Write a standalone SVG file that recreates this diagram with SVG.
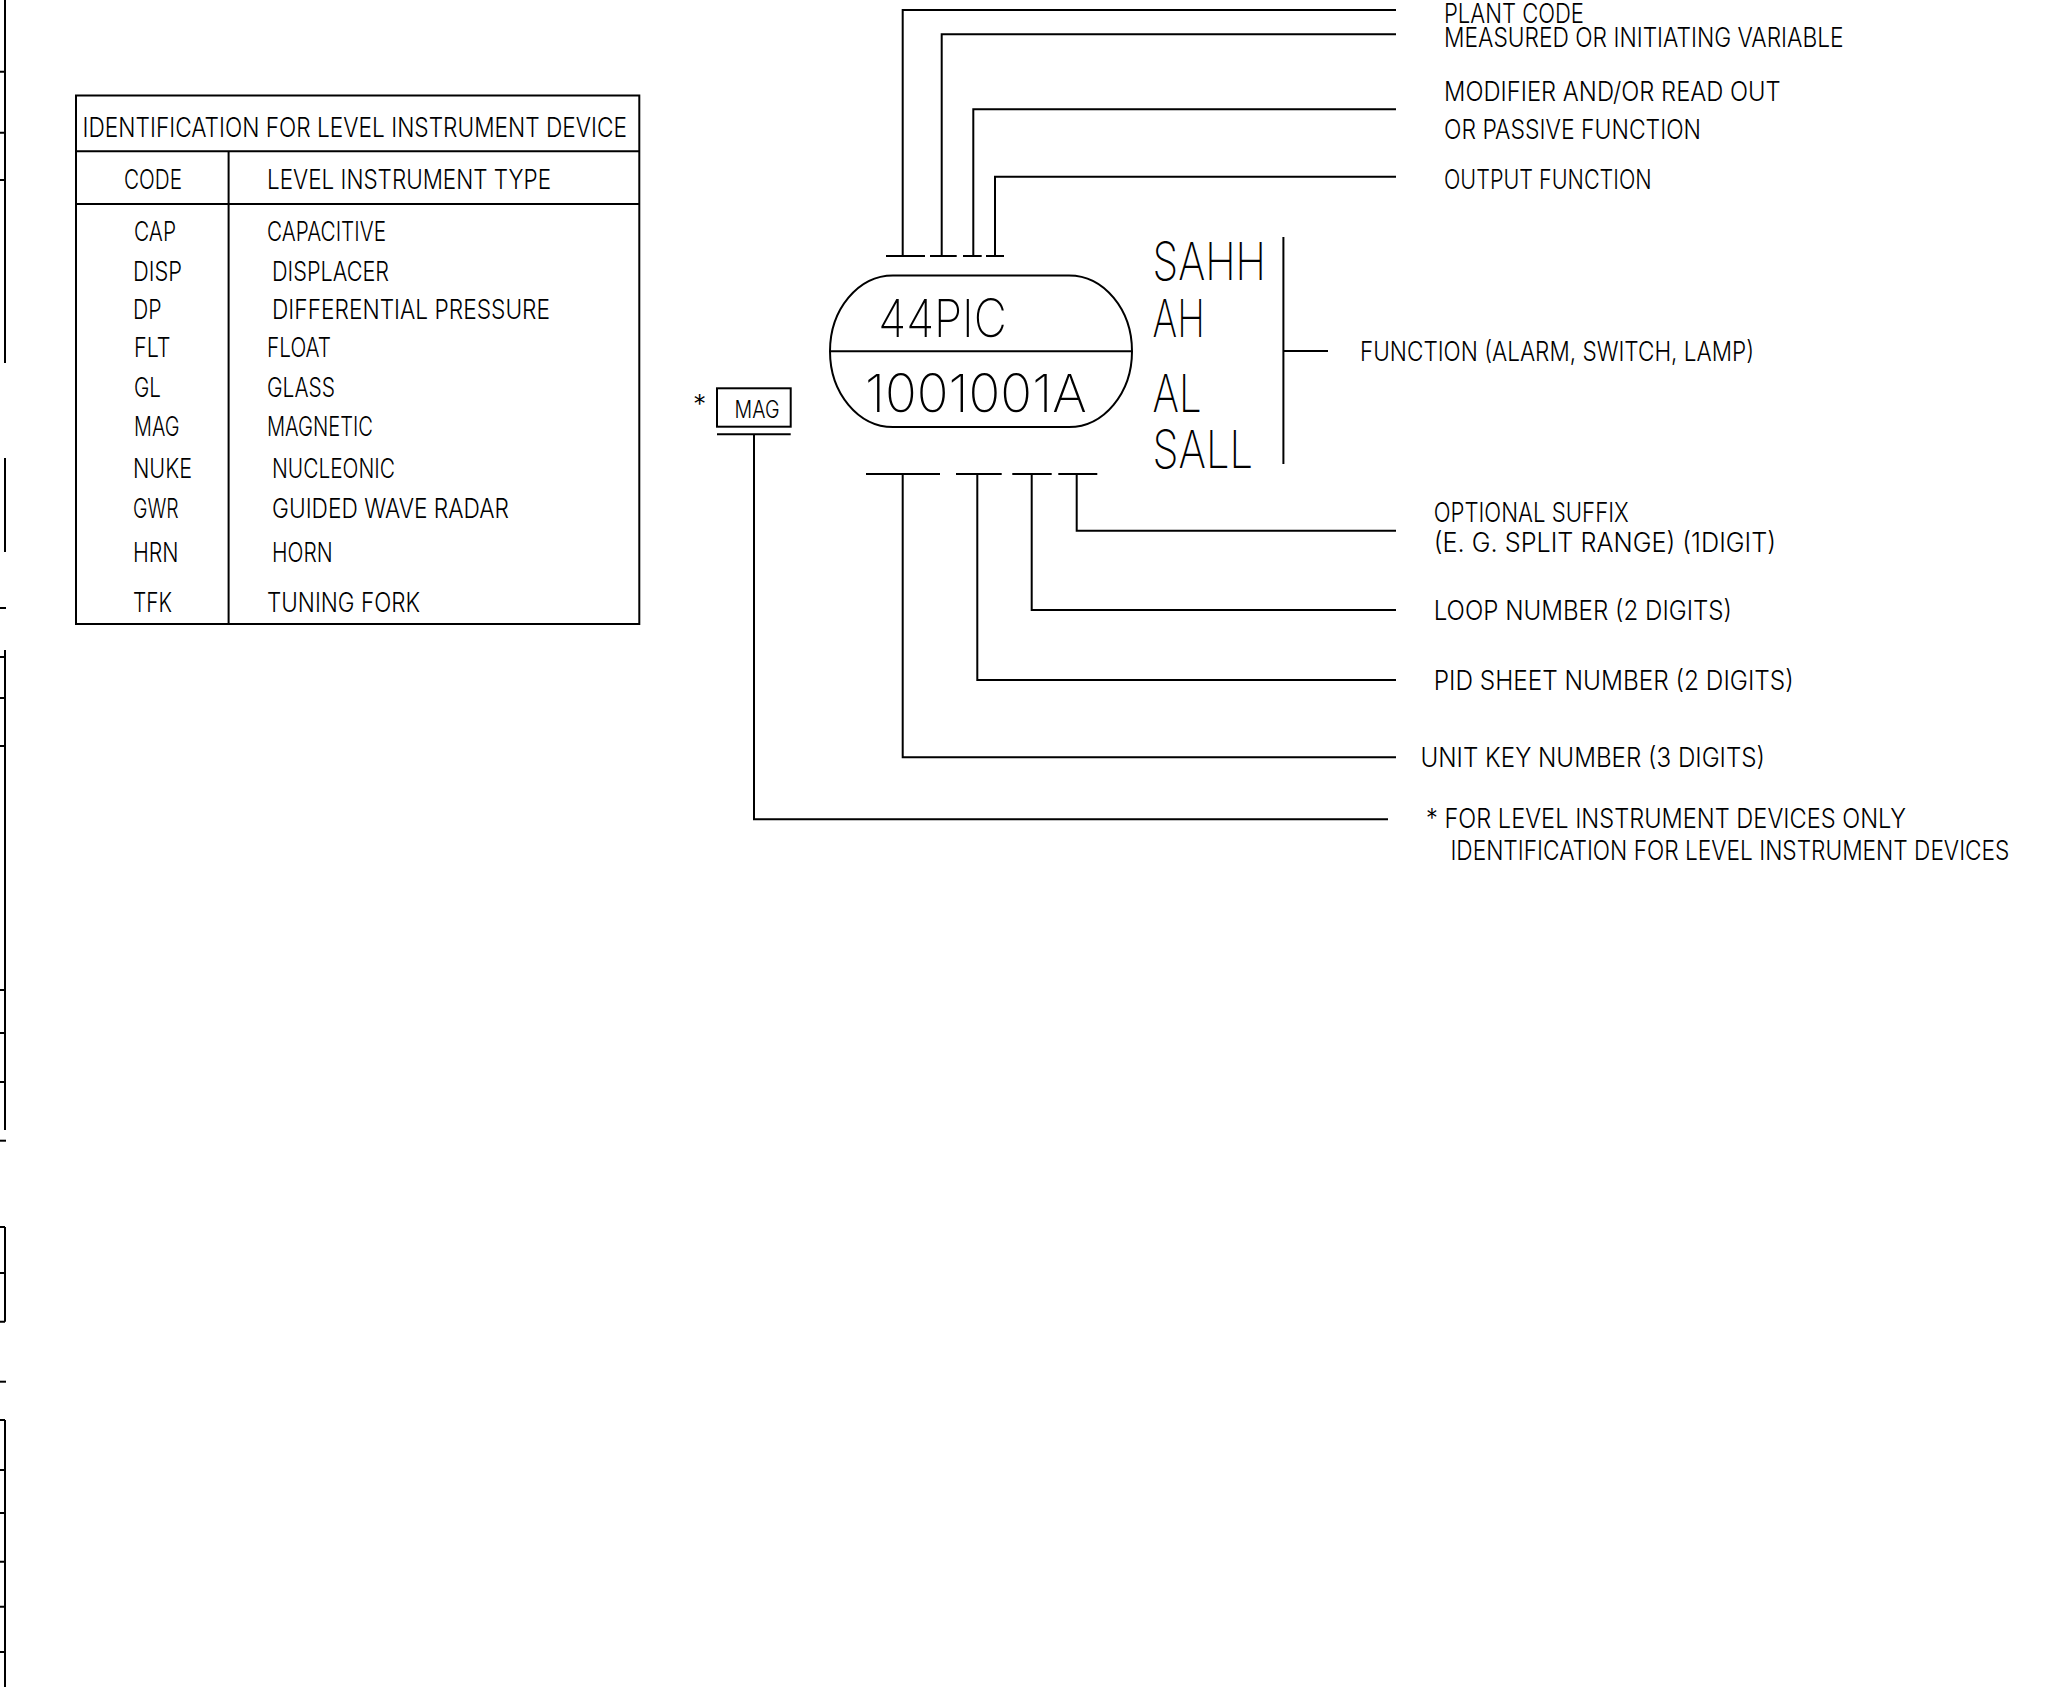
<svg xmlns="http://www.w3.org/2000/svg" width="2070" height="1687" viewBox="0 0 2070 1687">
<style>
.ln { stroke: #000; stroke-width: 2; fill: none; }
.tx { font-family: Inter, "Liberation Sans", Arial, sans-serif; font-weight: 300; font-size: 26.5px; fill: #000; }
.big { font-family: Inter, "Liberation Sans", Arial, sans-serif; font-weight: 200; font-size: 52.5px; fill: #000; }
.sm { font-family: Inter, "Liberation Sans", Arial, sans-serif; font-weight: 300; font-size: 24.5px; fill: #000; }
</style>
<rect x="0" y="0" width="2070" height="1687" fill="#fff"/>

<g id="frame-edge" class="ln">
  <path d="M5,0 V363 M0,71.7 H5 M0,132.7 H5 M0,180 H5"/>
  <path d="M5,458 V552"/>
  <path d="M0,608 H6"/>
  <path d="M5,650 V1130 M0,657 H5 M0,698 H5 M0,746 H5 M0,990 H5 M0,1033 H5 M0,1082 H5"/>
  <path d="M0,1140.7 H6"/>
  <path d="M5,1227 V1321.7 M0,1227 H5 M0,1273 H5 M0,1321.7 H5"/>
  <path d="M0,1381.7 H6"/>
  <path d="M5,1420 V1687 M0,1420 H5 M0,1470 H5 M0,1513 H5 M0,1561.7 H5 M0,1606.7 H5 M0,1652 H5"/>
</g>

<g id="level-table">
  <rect class="ln" x="76" y="95.5" width="563.3" height="528.5"/>
  <path class="ln" d="M76,151.3 H639.3 M76,204 H639.3 M228.6,151.3 V624"/>
  <text class="tx" x="82.6" y="136.8" textLength="544.4" lengthAdjust="spacingAndGlyphs">IDENTIFICATION FOR LEVEL INSTRUMENT DEVICE</text>
  <text class="tx" x="124" y="188.6" textLength="58" lengthAdjust="spacingAndGlyphs">CODE</text>
  <text class="tx" x="267" y="188.6" textLength="284" lengthAdjust="spacingAndGlyphs">LEVEL INSTRUMENT TYPE</text>
  <text class="tx" x="134" y="240.5" textLength="42" lengthAdjust="spacingAndGlyphs">CAP</text>
  <text class="tx" x="267" y="240.5" textLength="119" lengthAdjust="spacingAndGlyphs">CAPACITIVE</text>
  <text class="tx" x="133" y="281" textLength="49" lengthAdjust="spacingAndGlyphs">DISP</text>
  <text class="tx" x="272" y="281" textLength="117" lengthAdjust="spacingAndGlyphs">DISPLACER</text>
  <text class="tx" x="133" y="319" textLength="28.6" lengthAdjust="spacingAndGlyphs">DP</text>
  <text class="tx" x="272" y="319" textLength="278" lengthAdjust="spacingAndGlyphs">DIFFERENTIAL PRESSURE</text>
  <text class="tx" x="134" y="357" textLength="36.5" lengthAdjust="spacingAndGlyphs">FLT</text>
  <text class="tx" x="267" y="357" textLength="64" lengthAdjust="spacingAndGlyphs">FLOAT</text>
  <text class="tx" x="134" y="397" textLength="27" lengthAdjust="spacingAndGlyphs">GL</text>
  <text class="tx" x="267" y="397" textLength="68" lengthAdjust="spacingAndGlyphs">GLASS</text>
  <text class="tx" x="134" y="436" textLength="45.5" lengthAdjust="spacingAndGlyphs">MAG</text>
  <text class="tx" x="267" y="436" textLength="106" lengthAdjust="spacingAndGlyphs">MAGNETIC</text>
  <text class="tx" x="133" y="478" textLength="59" lengthAdjust="spacingAndGlyphs">NUKE</text>
  <text class="tx" x="272" y="478" textLength="123" lengthAdjust="spacingAndGlyphs">NUCLEONIC</text>
  <text class="tx" x="133" y="518" textLength="45.6" lengthAdjust="spacingAndGlyphs">GWR</text>
  <text class="tx" x="272" y="518" textLength="237" lengthAdjust="spacingAndGlyphs">GUIDED WAVE RADAR</text>
  <text class="tx" x="133" y="562" textLength="45.6" lengthAdjust="spacingAndGlyphs">HRN</text>
  <text class="tx" x="272" y="562" textLength="60.6" lengthAdjust="spacingAndGlyphs">HORN</text>
  <text class="tx" x="133" y="611.5" textLength="39" lengthAdjust="spacingAndGlyphs">TFK</text>
  <text class="tx" x="267" y="611.5" textLength="153" lengthAdjust="spacingAndGlyphs">TUNING FORK</text>
</g>

<g id="instrument-bubble">
  <path class="ln" d="M893,275.5 H1069 A63,75.75 0 0 1 1069,427 H893 A63,75.75 0 0 1 893,275.5 Z"/>
  <path class="ln" d="M830,351.3 H1132"/>
  <text class="big" x="878.3" y="337" textLength="128.4" lengthAdjust="spacingAndGlyphs">44PIC</text>
  <text class="big" x="865" y="412" textLength="221.7" lengthAdjust="spacingAndGlyphs">1001001A</text>
</g>

<g id="function-letters">
  <text class="big" x="1152.6" y="280" textLength="113.4" lengthAdjust="spacingAndGlyphs">SAHH</text>
  <text class="big" x="1152.6" y="336.7" textLength="52.2" lengthAdjust="spacingAndGlyphs">AH</text>
  <text class="big" x="1152.6" y="411.7" textLength="49.1" lengthAdjust="spacingAndGlyphs">AL</text>
  <text class="big" x="1152.6" y="468.3" textLength="100.4" lengthAdjust="spacingAndGlyphs">SALL</text>
</g>

<g id="mag-box">
  <text class="tx" x="693" y="414">*</text>
  <rect class="ln" x="717" y="388.3" width="73.7" height="38.4"/>
  <text class="sm" x="734.6" y="418.3" textLength="44.9" lengthAdjust="spacingAndGlyphs">MAG</text>
  <path class="ln" d="M717,434.3 H790.7"/>
</g>

<g id="connectors" class="ln">
  <path d="M886,256 H925 M930,256 H956.7 M963,256 H981.7 M986,256 H1004"/>
  <path d="M902.7,256 V10 H1396"/>
  <path d="M941.7,256 V34.3 H1396"/>
  <path d="M973.3,256 V109.3 H1396"/>
  <path d="M995,256 V176.7 H1396"/>
  <path d="M1283.4,237 V464 M1283.4,351 H1328"/>
  <path d="M866,474 H940 M956,474 H1001.7 M1012.3,474 H1051.7 M1058.3,474 H1097.3"/>
  <path d="M902.7,474 V757.3 H1396"/>
  <path d="M977.3,474 V680 H1396"/>
  <path d="M1031.7,474 V610 H1396"/>
  <path d="M1076.7,474 V530.7 H1396"/>
  <path d="M754,434.3 V819.3 H1388"/>
</g>

<g id="labels">
  <text class="tx" x="1444" y="22.7" textLength="140" lengthAdjust="spacingAndGlyphs">PLANT CODE</text>
  <text class="tx" x="1444" y="46.7" textLength="399.6" lengthAdjust="spacingAndGlyphs">MEASURED OR INITIATING VARIABLE</text>
  <text class="tx" x="1444" y="101" textLength="336.7" lengthAdjust="spacingAndGlyphs">MODIFIER AND/OR READ OUT</text>
  <text class="tx" x="1444" y="139.3" textLength="257" lengthAdjust="spacingAndGlyphs">OR PASSIVE FUNCTION</text>
  <text class="tx" x="1444" y="189.3" textLength="207.6" lengthAdjust="spacingAndGlyphs">OUTPUT FUNCTION</text>
  <text class="tx" x="1360" y="360.7" textLength="394" lengthAdjust="spacingAndGlyphs">FUNCTION (ALARM, SWITCH, LAMP)</text>
  <text class="tx" x="1433.7" y="521.7" textLength="195" lengthAdjust="spacingAndGlyphs">OPTIONAL SUFFIX</text>
  <text class="tx" x="1433.7" y="551.7" textLength="342.3" lengthAdjust="spacingAndGlyphs">(E. G. SPLIT RANGE) (1DIGIT)</text>
  <text class="tx" x="1433.7" y="620" textLength="298.3" lengthAdjust="spacingAndGlyphs">LOOP NUMBER (2 DIGITS)</text>
  <text class="tx" x="1433.7" y="690" textLength="360" lengthAdjust="spacingAndGlyphs">PID SHEET NUMBER (2 DIGITS)</text>
  <text class="tx" x="1420.5" y="766.7" textLength="344.5" lengthAdjust="spacingAndGlyphs">UNIT KEY NUMBER (3 DIGITS)</text>
  <text class="tx" x="1426" y="828.3" textLength="480" lengthAdjust="spacingAndGlyphs">* FOR LEVEL INSTRUMENT DEVICES ONLY</text>
  <text class="tx" transform="translate(1450.4,860) scale(0.78,1)" x="0" y="0" textLength="716.7" lengthAdjust="spacingAndGlyphs">IDENTIFICATION FOR LEVEL INSTRUMENT DEVICES</text>
</g>
</svg>
